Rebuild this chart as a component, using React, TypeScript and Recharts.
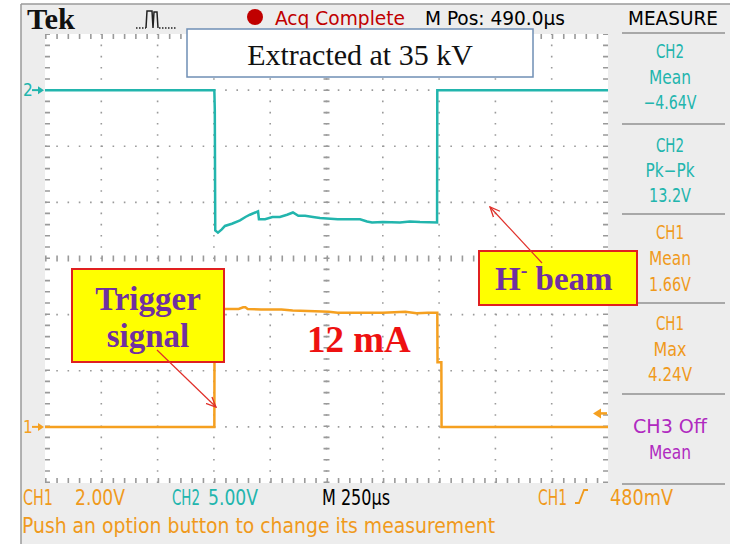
import { LineChart, Line, XAxis, YAxis, ReferenceLine, ReferenceDot } from "recharts"

// horizontal: M 250 µs/div, 10 divisions; vertical: 8 divisions
const gridTimes = [250, 500, 750, 1000, 1250, 1500, 1750, 2000, 2250]
const gridDivs = [-3, -2, -1, 1, 2, 3]

// CH1 trigger signal, volts (2.00 V/div)
const ch1Time = [0, 752, 753, 770, 800, 860, 880, 890, 900, 960, 1050, 1100, 1200, 1260, 1300, 1400, 1500, 1600, 1650, 1700, 1742, 1743, 1760, 1761, 2500]
const ch1Volts = [0, 0, 4.2, 4.22, 4.2, 4.2, 4.26, 4.26, 4.2, 4.18, 4.18, 4.15, 4.12, 4.1, 4.07, 4.07, 4.07, 4.1, 4.05, 4.07, 4.07, 2.3, 2.3, 0, 0]

// CH2 H- beam, volts (5.00 V/div)
const ch2Time = [0, 752, 754, 756, 768, 785, 799, 830, 866, 890, 910, 946, 950, 977, 1010, 1043, 1075, 1101, 1125, 1155, 1190, 1221, 1300, 1399, 1430, 1452, 1500, 1576, 1620, 1665, 1741, 1742, 2500]
const ch2Volts = [0, 0, -1.8, -12.5, -12.7, -12.4, -12.1, -11.9, -11.6, -11.3, -11.1, -10.8, -11.5, -11.5, -11.3, -11.3, -11.1, -10.9, -11.2, -11.2, -11.3, -11.4, -11.5, -11.5, -11.7, -11.8, -11.75, -11.8, -11.7, -11.75, -11.8, 0, 0]

const measureTitle = ["CH2", "CH2", "CH1", "CH1", "CH3 Off"]
const measureName = ["Mean", "Pk−Pk", "Mean", "Max", "Mean"]
const measureValue = ["−4.64V", "13.2V", "1.66V", "4.24V", ""]

const ch1Data = ch1Time.map((t, i) => ({ t, v: ch1Volts[i] }))
const ch2Data = ch2Time.map((t, i) => ({ t, v: ch2Volts[i] }))

const TEAL = "#22b5ad"
const ORANGE = "#f5a020"
const TXT_ORANGE = "#f09a1c"
const GRID = "#9a9a9a"
const scope = "'Liberation Sans Narrow', 'DejaVu Sans Condensed', 'DejaVu Sans', sans-serif"
const serif = "'Liberation Serif', 'DejaVu Serif', serif"

function T({ x, y, len, color = "#000", size = 19, anchor = "start", children }: any) {
  return (
    <text x={x} y={y} fill={color} fontSize={size} fontFamily={scope} textAnchor={anchor}
      textLength={len} lengthAdjust="spacingAndGlyphs">{children}</text>
  )
}

function ChannelTag({ cx, cy, label, color }: any) {
  return (
    <g>
      <text x={cx - 22} y={cy + 6} fill={color} fontSize={17} fontFamily={scope}>{label}</text>
      <line x1={cx - 13} y1={cy} x2={cx - 4} y2={cy} stroke={color} strokeWidth={2} />
      <path d={`M${cx - 1},${cy} L${cx - 7},${cy - 4} L${cx - 7},${cy + 4} Z`} fill={color} />
    </g>
  )
}

function TrigTag({ cx, cy }: any) {
  return (
    <g>
      <path d={`M${cx - 15},${cy} L${cx - 7},${cy - 5} L${cx - 7},${cy + 5} Z`} fill={ORANGE} />
      <line x1={cx - 8} y1={cy} x2={cx - 1} y2={cy} stroke={ORANGE} strokeWidth={2.5} />
    </g>
  )
}

const rowBase = [[58, 84, 109], [152, 177, 202], [239, 265, 291], [330, 356, 381], [433, 459]]
const rowLen: any = { "CH2": 28, "CH1": 28, "CH3 Off": 74, "Mean": 42, "Pk−Pk": 49, "Max": 33, "−4.64V": 53, "13.2V": 42, "1.66V": 42, "4.24V": 44 }
const rowColor = [TEAL, TEAL, TXT_ORANGE, TXT_ORANGE, "#b02ac0"]

export default function App() {
  return (
    <div style={{ position: "absolute", left: 0, top: 0, width: 730, height: 544, background: "#fff" }}>
      <svg width={730} height={544} style={{ position: "absolute", left: 0, top: 0 }}>
        <rect x={21} y={4} width={709} height={540} fill="#ededed" />
        <line x1={21} y1={4} x2={21} y2={544} stroke="#9a9a9a" strokeWidth={1.5} />
        <line x1={21} y1={4} x2={730} y2={4} stroke="#9a9a9a" strokeWidth={1.5} />
        <rect x={45} y={34} width={563} height={449} fill="#fff" />
      </svg>

      <div style={{ position: "absolute", left: 0, top: 0 }}>
        <LineChart width={730} height={544} margin={{ top: 34, right: 122, bottom: 61, left: 45 }}>
          <XAxis xAxisId="t" type="number" dataKey="t" domain={[0, 2500]} hide allowDataOverflow />
          <YAxis yAxisId="ch1" type="number" domain={[-2, 14]} hide allowDataOverflow />
          <YAxis yAxisId="ch2" type="number" domain={[-35, 5]} hide allowDataOverflow />
          <YAxis yAxisId="div" type="number" domain={[-4, 4]} hide allowDataOverflow />

          {gridTimes.map((t) => (
            <ReferenceLine key={"v" + t} xAxisId="t" yAxisId="div" x={t} stroke={GRID} strokeWidth={1.6} strokeDasharray="1.6 9.6" />
          ))}
          {gridDivs.map((d) => (
            <ReferenceLine key={"h" + d} xAxisId="t" yAxisId="div" y={d} stroke={GRID} strokeWidth={1.6} strokeDasharray="1.6 9.66" />
          ))}
          <ReferenceLine xAxisId="t" yAxisId="div" y={0} stroke={GRID} strokeWidth={6} strokeDasharray="1.6 9.66" />
          <ReferenceLine xAxisId="t" yAxisId="div" x={1250} stroke={GRID} strokeWidth={6} strokeDasharray="1.6 9.6" />
          {/* inward border ticks, 5px long */}
          <ReferenceLine xAxisId="t" yAxisId="div" y={3.955} stroke={GRID} strokeWidth={5} strokeDasharray="1.6 9.66" />
          <ReferenceLine xAxisId="t" yAxisId="div" y={-3.955} stroke={GRID} strokeWidth={5} strokeDasharray="1.6 9.66" />
          <ReferenceLine xAxisId="t" yAxisId="div" x={11} stroke={GRID} strokeWidth={5} strokeDasharray="1.6 9.6" />
          <ReferenceLine xAxisId="t" yAxisId="div" x={2489} stroke={GRID} strokeWidth={5} strokeDasharray="1.6 9.6" />

          <Line xAxisId="t" yAxisId="ch2" data={ch2Data} dataKey="v" type="linear" stroke={TEAL} strokeWidth={2.5} dot={false} isAnimationActive={false} />
          <Line xAxisId="t" yAxisId="ch1" data={ch1Data} dataKey="v" type="linear" stroke={ORANGE} strokeWidth={2.5} dot={false} isAnimationActive={false} />

          <ReferenceDot xAxisId="t" yAxisId="ch2" x={0} y={0} shape={(p: any) => <ChannelTag cx={p.cx} cy={p.cy} label="2" color={TEAL} />} />
          <ReferenceDot xAxisId="t" yAxisId="ch1" x={0} y={0} shape={(p: any) => <ChannelTag cx={p.cx} cy={p.cy} label="1" color={ORANGE} />} />
          <ReferenceDot xAxisId="t" yAxisId="ch1" x={2500} y={0.48} shape={(p: any) => <TrigTag cx={p.cx} cy={p.cy} />} />
        </LineChart>
      </div>

      <svg width={730} height={544} style={{ position: "absolute", left: 0, top: 0, pointerEvents: "none" }}>
        <defs>
          <marker id="ah" viewBox="0 0 10 10" refX="9" refY="5" markerWidth="11" markerHeight="11" orient="auto" markerUnits="userSpaceOnUse">
            <path d="M0,1 L9,5 L0,9" fill="none" stroke="#e0302a" strokeWidth={1.2} />
          </marker>
        </defs>

        {/* header */}
        <text x={27} y={29} fontSize={29} fontWeight="bold" fontFamily={serif} fill="#111" textLength={48} lengthAdjust="spacingAndGlyphs">Tek</text>
        <path d="M136,28 L146,28" stroke="#222" strokeWidth={1.5} strokeDasharray="1.5 1.5" />
        <path d="M146,28 L147,11 L152,11 L153,28 L154,12 L157,12 L158,28" stroke="#222" strokeWidth={1.5} fill="none" />
        <path d="M159,28 L177,28" stroke="#222" strokeWidth={1.5} strokeDasharray="1.5 1.5" />
        <circle cx={255} cy={17} r={8} fill="#c00000" />
        <T x={275} y={25} len={130} color="#c00000">Acq Complete</T>
        <T x={425} y={25} len={140}>M Pos: 490.0µs</T>
        <T x={628} y={25} len={90}>MEASURE</T>

        {/* measure panel */}
        {[33, 124, 214, 303, 394, 484].map((y) => (
          <line key={y} x1={622} y1={y} x2={725} y2={y} stroke="#a8a8a8" strokeWidth={2} />
        ))}
        {measureTitle.map((title, i) => {
          const rows = [title, measureName[i], measureValue[i]].filter((s) => s)
          return rows.map((s, j) => (
            <T key={i + "-" + j} x={670} y={rowBase[i][j]} len={rowLen[s]} color={rowColor[i]} anchor="middle">{s}</T>
          ))
        })}

        {/* footer */}
        <T x={23} y={505} len={30} color={TXT_ORANGE} size={21}>CH1</T>
        <T x={75} y={505} len={50} color={TXT_ORANGE} size={21}>2.00V</T>
        <T x={172} y={505} len={28} color={TEAL} size={21}>CH2</T>
        <T x={208} y={505} len={50} color={TEAL} size={21}>5.00V</T>
        <T x={322} y={505} len={68} size={21}>M 250µs</T>
        <T x={538} y={505} len={29} color={TXT_ORANGE} size={21}>CH1</T>
        <path d="M575,503 L579,503 L584,490 L588,490" stroke={TXT_ORANGE} strokeWidth={1.8} fill="none" />
        <T x={610} y={505} len={63} color={TXT_ORANGE} size={21}>480mV</T>
        <T x={22} y={533} len={473} color={TXT_ORANGE} size={21}>Push an option button to change its measurement</T>

        {/* annotations */}
        <rect x={187} y={29} width={346} height={48} fill="#fff" stroke="#6f8fb5" strokeWidth={1.5} />
        <text x={360} y={65} textAnchor="middle" fontSize={30} fontFamily={serif} fill="#111">Extracted at 35 kV</text>

        <rect x={72} y={269} width={152} height={93} fill="#ffff00" stroke="#e02020" strokeWidth={2} />
        <text x={148} y={310} textAnchor="middle" fontSize={33} fontWeight="bold" fontFamily={serif} fill="#7030a0">Trigger</text>
        <text x={148} y={347} textAnchor="middle" fontSize={33} fontWeight="bold" fontFamily={serif} fill="#7030a0">signal</text>

        <rect x={479} y={251} width={158} height={54} fill="#ffff00" stroke="#e02020" strokeWidth={2} />
        <text x={495} y={290} fontSize={33} fontWeight="bold" fontFamily={serif} fill="#7030a0">
          H<tspan dy={-13} fontSize={20}>-</tspan><tspan dy={13}> beam</tspan>
        </text>

        <text x={307} y={352} fontSize={37} fontWeight="bold" fontFamily={serif} fill="#ee1111">12 mA</text>

        <line x1={157} y1={350} x2={216} y2={407} stroke="#e0302a" strokeWidth={1.2} markerEnd="url(#ah)" />
        <line x1={542} y1={263} x2={490} y2={207} stroke="#e0302a" strokeWidth={1.2} markerEnd="url(#ah)" />
      </svg>
    </div>
  )
}
